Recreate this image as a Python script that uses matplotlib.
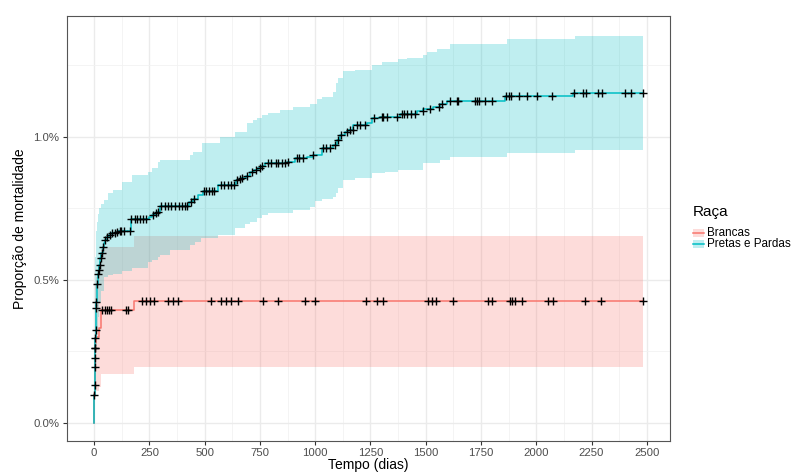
import numpy as np
import matplotlib
matplotlib.use("Agg")
import matplotlib.pyplot as plt
from matplotlib.patches import Rectangle
from matplotlib.lines import Line2D
from matplotlib.ticker import FuncFormatter, MultipleLocator

plt.rcParams['font.family'] = ['Liberation Sans', 'DejaVu Sans']

# follow-up end (days)
t_end = 2483

# Pretas e Pardas: step curve (day, mortality %)
teal_t = [0, 1, 2, 3, 4, 5, 6, 7, 8, 9,
          10, 12, 13, 17, 20, 24, 28, 33, 38, 45,
          50, 58, 66, 78, 90, 100, 110, 165, 250, 262,
          276, 286, 298, 430, 448, 470, 492, 560, 640, 655,
          665, 685, 705, 725, 740, 760, 775, 873, 909, 963,
          990, 1031, 1081, 1100, 1113, 1135, 1150, 1171, 1235, 1257,
          1294, 1384, 1461, 1488, 1533, 1565, 1597, 1858, 2167]
teal_v = [0.000, 0.098, 0.133, 0.195, 0.227, 0.262, 0.297, 0.325, 0.365, 0.401,
          0.422, 0.455, 0.486, 0.520, 0.534, 0.551, 0.576, 0.593, 0.615, 0.628,
          0.639, 0.650, 0.656, 0.662, 0.664, 0.668, 0.670, 0.711, 0.719, 0.726,
          0.733, 0.738, 0.757, 0.770, 0.783, 0.797, 0.811, 0.831, 0.848, 0.851,
          0.855, 0.862, 0.877, 0.883, 0.890, 0.897, 0.906, 0.911, 0.924, 0.928,
          0.935, 0.959, 0.970, 0.988, 1.005, 1.016, 1.023, 1.040, 1.046, 1.064,
          1.069, 1.077, 1.089, 1.095, 1.104, 1.113, 1.125, 1.141, 1.153]
teal_cens = [1, 2, 3, 4, 5, 5, 6, 7, 9, 10, 13, 17,
             21, 25, 30, 36, 40, 51, 60, 71, 81, 93, 105, 116, 123, 135, 161,
             168, 184, 195, 206, 221, 236, 267, 281, 289, 304, 322, 334, 349,
             367, 383, 398, 410, 422, 440, 452, 497, 508, 519, 533, 543, 573,
             588, 606, 621, 633, 648, 659, 669, 693, 714, 734, 751, 761, 788,
             799, 823, 834, 849, 864, 879, 917, 929, 947, 992, 1034, 1049, 1067,
             1090, 1105, 1116, 1143, 1158, 1170, 1191, 1203, 1226, 1267, 1301,
             1309, 1324, 1372, 1392, 1402, 1414, 1433, 1452, 1487, 1520, 1562,
             1573, 1610, 1641, 1647, 1724, 1733, 1742, 1769, 1801, 1864, 1878,
             1887, 1923, 1959, 2004, 2072, 2170, 2212, 2225, 2280, 2298, 2402,
             2429, 2483]
teal_hi_t = [0, 1, 2, 3, 4, 6, 8, 10, 13, 17, 22, 30, 45, 63, 85, 126, 171,
             244, 262, 289, 298, 434, 448, 488, 570, 638, 692, 719, 737, 760,
             787, 841, 900, 977, 1009, 1031, 1081, 1094, 1103, 1126, 1180,
             1257, 1303, 1375, 1416, 1488, 1506, 1551, 1610, 1868, 2176]
teal_hi = [0.00, 0.25, 0.38, 0.46, 0.52, 0.58, 0.63, 0.67, 0.70, 0.73, 0.75,
           0.765, 0.78, 0.803, 0.813, 0.840, 0.866, 0.877, 0.889, 0.912, 0.918,
           0.935, 0.947, 0.976, 0.999, 1.017, 1.047, 1.058, 1.065, 1.075, 1.081,
           1.092, 1.102, 1.113, 1.130, 1.139, 1.156, 1.186, 1.203, 1.229, 1.232,
           1.250, 1.261, 1.269, 1.273, 1.284, 1.296, 1.304, 1.322, 1.340, 1.352]
teal_lo_t = [0, 1, 2, 3, 4, 6, 8, 10, 13, 17, 22, 30, 45, 63, 85, 126, 171,
             244, 262, 289, 298, 343, 434, 457, 484, 560, 638, 683, 705, 737,
             760, 787, 900, 977, 1000, 1031, 1081, 1094, 1103, 1126, 1180, 1257,
             1316, 1375, 1488, 1565, 1610, 1868, 2176]
teal_lo = [0.00, 0.03, 0.06, 0.10, 0.13, 0.18, 0.23, 0.27, 0.32, 0.37, 0.42,
           0.46, 0.51, 0.515, 0.52, 0.53, 0.54, 0.563, 0.57, 0.58, 0.586, 0.604,
           0.621, 0.633, 0.645, 0.656, 0.681, 0.695, 0.703, 0.716, 0.726, 0.732,
           0.743, 0.755, 0.776, 0.781, 0.790, 0.802, 0.819, 0.848, 0.854, 0.872,
           0.877, 0.883, 0.906, 0.918, 0.927, 0.943, 0.953]

# Brancas
red_t = [0, 1, 2, 3, 4, 6, 9, 20, 30, 180]
red_v = [0.000, 0.10, 0.16, 0.21, 0.25, 0.28, 0.30, 0.33, 0.394, 0.427]
red_cens = [37, 48, 57, 67, 78, 143, 153, 216, 235, 252, 271, 336, 357, 378,
            530, 576, 598, 621, 651, 765, 830, 954, 999, 1230, 1280, 1307, 1511,
            1529, 1547, 1624, 1783, 1801, 1882, 1891, 1905, 1936, 2054, 2077,
            2222, 2294, 2483]
red_hi_t = [0, 1, 2, 3, 4, 6, 9, 20, 30, 180]
red_hi = [0.00, 0.30, 0.38, 0.42, 0.46, 0.49, 0.51, 0.53, 0.615, 0.653]
red_lo_t = [0, 1, 2, 3, 4, 6, 9, 20, 30, 180]
red_lo = [0.00, 0.01, 0.03, 0.05, 0.07, 0.09, 0.11, 0.127, 0.172, 0.197]

groups = ['Brancas', 'Pretas e Pardas']
colors = ['#F8766D', '#00BFC4']
band_alpha = 0.25


def lookup(t, v, x):
    idx = np.searchsorted(t, x, side='right') - 1
    return np.asarray(v)[idx]


fig = plt.figure(figsize=(7.92, 4.72), dpi=100)
ax = fig.add_axes([66.7 / 792, 31 / 472, 603.3 / 792, 425 / 472])

series = [(red_t, red_v, red_cens, red_lo_t, red_lo, red_hi_t, red_hi),
          (teal_t, teal_v, teal_cens, teal_lo_t, teal_lo, teal_hi_t, teal_hi)]

# confidence bands
for (t, v, c, lt, lo, ht, hi), col in zip(series, colors):
    grid = np.append(np.union1d(lt, ht), t_end)
    ax.fill_between(grid, lookup(lt, lo, grid), lookup(ht, hi, grid),
                    step='post', color=col, alpha=band_alpha, lw=0, zorder=2)

# survival steps
for (t, v, c, lt, lo, ht, hi), col in zip(series, colors):
    ax.step(np.append(t, t_end), np.append(v, v[-1]), where='post',
            color=col, lw=1.1, zorder=3)

# censor marks
for (t, v, c, lt, lo, ht, hi), col in zip(series, colors):
    ax.plot(c, lookup(t, v, c), '+', color='black', ms=5.5, mew=1.0, zorder=4)

ax.set_xlim(-124, 2605)
ax.set_ylim(-0.0628, 1.4206)
ax.xaxis.set_major_locator(MultipleLocator(250))
ax.xaxis.set_minor_locator(MultipleLocator(125))
ax.yaxis.set_major_locator(MultipleLocator(0.5))
ax.yaxis.set_minor_locator(MultipleLocator(0.25))
ax.yaxis.set_major_formatter(FuncFormatter(lambda y, p: f'{y:.1f}%'))

ax.grid(which='major', color='#EBEBEB', lw=1.0, zorder=0)
ax.grid(which='minor', color='#F2F2F2', lw=0.6, zorder=0)
ax.set_axisbelow(True)
for s in ax.spines.values():
    s.set_color('#555555')
    s.set_linewidth(0.8)
ax.tick_params(which='major', length=2.7, width=0.8, color='#333333',
               labelcolor='#4D4D4D', labelsize=8.2, pad=2.5)
ax.tick_params(which='minor', length=0)

ax.set_xlabel('Tempo (dias)', fontsize=10)
ax.set_ylabel('Proporção de mortalidade', fontsize=10)
ax.xaxis.set_label_coords(0.5, -0.040)
ax.yaxis.set_label_coords(-0.066, 0.5)

# legend (drawn by hand to get ggplot's tight key spacing)
W, H = 792, 472
fig.text(693 / W, 1 - 212 / H, 'Raça', fontsize=11, va='center', ha='left')
for i, (lab, col) in enumerate(zip(groups, colors)):
    yc = 233.3 + 11 * i
    fig.add_artist(Rectangle((693 / W, 1 - (yc + 4) / H), 11 / W, 8 / H,
                             transform=fig.transFigure, facecolor=col,
                             alpha=band_alpha, edgecolor='none'))
    fig.add_artist(Line2D([693 / W, 704 / W], [1 - yc / H, 1 - yc / H],
                          transform=fig.transFigure, color=col, lw=1.1))
    fig.text(707 / W, 1 - yc / H, lab, fontsize=8.4, va='center', ha='left')

fig.savefig('out.png', dpi=100)
